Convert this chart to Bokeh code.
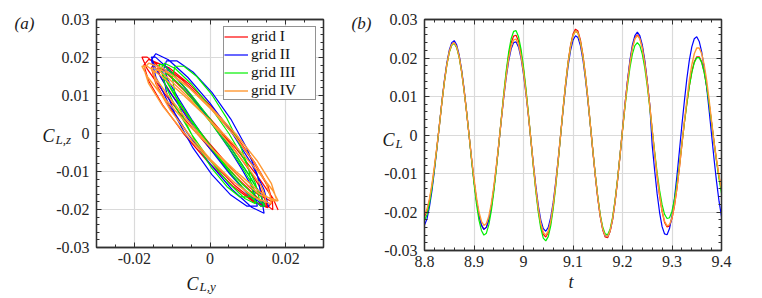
from bokeh.plotting import figure
from bokeh.models import (Range1d, FixedTicker, LinearAxis, CustomJSTickFormatter,
                          Label, Legend, LegendItem)
from bokeh.layouts import row
from bokeh.embed import file_html
from bokeh.resources import INLINE

# ---------------- data: panel (a)  C_L,y  vs  C_L,z ----------------
cly_red = [0.0180, 0.0166, 0.0127, 0.0069, 0.0, -0.0069, -0.0127, -0.0166, -0.0180, -0.0166, -0.0127, -0.0069, 0.0, 0.0069, 0.0127, 0.0166,
           0.0165, 0.0153, 0.0118, 0.0066, 0.0005, -0.0056, -0.0108, -0.0143, -0.0155, -0.0143, -0.0108, -0.0056, 0.0005, 0.0066, 0.0118, 0.0153,
           0.0140, 0.0129, 0.0099, 0.0054, 0.0, -0.0054, -0.0099, -0.0129, -0.0140, -0.0129, -0.0099, -0.0054, 0.0, 0.0054, 0.0099, 0.0129,
           0.0165, 0.0152, 0.0115, 0.0060, -0.0005, -0.0070, -0.0125, -0.0162, -0.0175, -0.0162, -0.0125, -0.0070, -0.0005, 0.0060, 0.0115, 0.0152,
           0.0165]
clz_red = [-0.0201, -0.0170, -0.0114, -0.0040, 0.0040, 0.0114, 0.0170, 0.0201, 0.0201, 0.0170, 0.0114, 0.0040, -0.0040, -0.0114, -0.0170, -0.0201,
           -0.0179, -0.0137, -0.0076, -0.0003, 0.0070, 0.0131, 0.0173, 0.0187, 0.0173, 0.0131, 0.0070, -0.0003, -0.0076, -0.0137, -0.0179, -0.0193,
           -0.0162, -0.0136, -0.0090, -0.0028, 0.0038, 0.0100, 0.0146, 0.0172, 0.0172, 0.0146, 0.0100, 0.0038, -0.0028, -0.0090, -0.0136, -0.0162,
           -0.0180, -0.0138, -0.0075, 0.0, 0.0075, 0.0138, 0.0180, 0.0195, 0.0180, 0.0138, 0.0075, 0.0, -0.0075, -0.0138, -0.0180, -0.0195,
           -0.0180]

cly_blue = [0.0155, 0.0143, 0.0110, 0.0059, 0.0, -0.0059, -0.0110, -0.0143, -0.0155, -0.0143, -0.0110, -0.0059, 0.0, 0.0059, 0.0110, 0.0143,
            0.0135, 0.0125, 0.0097, 0.0055, 0.0005, -0.0045, -0.0087, -0.0115, -0.0125, -0.0115, -0.0087, -0.0045, 0.0005, 0.0055, 0.0097, 0.0125,
            0.0120, 0.0111, 0.0085, 0.0046, 0.0, -0.0046, -0.0085, -0.0111, -0.0120, -0.0111, -0.0085, -0.0046, 0.0, 0.0046, 0.0085, 0.0111,
            0.0145, 0.0134, 0.0101, 0.0052, -0.0005, -0.0062, -0.0111, -0.0144, -0.0155, -0.0144, -0.0111, -0.0062, -0.0005, 0.0052, 0.0101, 0.0134,
            0.0145]
clz_blue = [-0.0194, -0.0148, -0.0080, 0.0, 0.0080, 0.0148, 0.0194, 0.0210, 0.0194, 0.0148, 0.0080, 0.0, -0.0080, -0.0148, -0.0194, -0.0210,
            -0.0162, -0.0108, -0.0038, 0.0038, 0.0108, 0.0162, 0.0191, 0.0191, 0.0162, 0.0108, 0.0038, -0.0038, -0.0108, -0.0162, -0.0191, -0.0191,
            -0.0167, -0.0141, -0.0095, -0.0033, 0.0033, 0.0095, 0.0141, 0.0167, 0.0167, 0.0141, 0.0095, 0.0033, -0.0033, -0.0095, -0.0141, -0.0167,
            -0.0191, -0.0161, -0.0106, -0.0034, 0.0044, 0.0116, 0.0171, 0.0201, 0.0201, 0.0171, 0.0116, 0.0044, -0.0034, -0.0106, -0.0161, -0.0191,
            -0.0191]

cly_green = [0.0130, 0.0120, 0.0092, 0.0050, 0.0, -0.0050, -0.0092, -0.0120, -0.0130, -0.0120, -0.0092, -0.0050, 0.0, 0.0050, 0.0092, 0.0120,
             0.0110, 0.0102, 0.0079, 0.0045, 0.0005, -0.0035, -0.0069, -0.0092, -0.0100, -0.0092, -0.0069, -0.0035, 0.0005, 0.0045, 0.0079, 0.0102,
             0.0120, 0.0111, 0.0085, 0.0046, 0.0, -0.0046, -0.0085, -0.0111, -0.0120, -0.0111, -0.0085, -0.0046, 0.0, 0.0046, 0.0085, 0.0111,
             0.0145, 0.0134, 0.0104, 0.0059, 0.0005, -0.0049, -0.0094, -0.0124, -0.0135, -0.0124, -0.0094, -0.0049, 0.0005, 0.0059, 0.0104, 0.0134,
             0.0145]
clz_green = [-0.0171, -0.0131, -0.0071, 0.0, 0.0071, 0.0131, 0.0171, 0.0185, 0.0171, 0.0131, 0.0071, 0.0, -0.0071, -0.0131, -0.0171, -0.0185,
             -0.0140, -0.0092, -0.0029, 0.0039, 0.0102, 0.0150, 0.0177, 0.0177, 0.0150, 0.0102, 0.0039, -0.0029, -0.0092, -0.0140, -0.0167, -0.0167,
             -0.0157, -0.0133, -0.0089, -0.0031, 0.0031, 0.0089, 0.0133, 0.0157, 0.0157, 0.0133, 0.0089, 0.0031, -0.0031, -0.0089, -0.0133, -0.0157,
             -0.0191, -0.0163, -0.0111, -0.0042, 0.0032, 0.0101, 0.0153, 0.0181, 0.0181, 0.0153, 0.0101, 0.0032, -0.0042, -0.0111, -0.0163, -0.0191,
             -0.0191]

cly_orange = [0.0175, 0.0162, 0.0124, 0.0067, 0.0, -0.0067, -0.0124, -0.0162, -0.0175, -0.0162, -0.0124, -0.0067, 0.0, 0.0067, 0.0124, 0.0162,
              0.0160, 0.0148, 0.0115, 0.0064, 0.0005, -0.0054, -0.0105, -0.0138, -0.0150, -0.0138, -0.0105, -0.0054, 0.0005, 0.0064, 0.0115, 0.0148,
              0.0145, 0.0134, 0.0101, 0.0052, -0.0005, -0.0062, -0.0111, -0.0144, -0.0155, -0.0144, -0.0111, -0.0062, -0.0005, 0.0052, 0.0101, 0.0134,
              0.0180, 0.0166, 0.0127, 0.0069, 0.0, -0.0069, -0.0127, -0.0166, -0.0180, -0.0166, -0.0127, -0.0069, 0.0, 0.0069, 0.0127, 0.0166,
              0.0180]
clz_orange = [-0.0171, -0.0131, -0.0071, 0.0, 0.0071, 0.0131, 0.0171, 0.0185, 0.0171, 0.0131, 0.0071, 0.0, -0.0071, -0.0131, -0.0171, -0.0185,
              -0.0167, -0.0129, -0.0072, -0.0005, 0.0062, 0.0119, 0.0157, 0.0170, 0.0157, 0.0119, 0.0062, -0.0005, -0.0072, -0.0129, -0.0167, -0.0180,
              -0.0162, -0.0136, -0.0090, -0.0028, 0.0038, 0.0100, 0.0146, 0.0172, 0.0172, 0.0146, 0.0100, 0.0038, -0.0028, -0.0090, -0.0136, -0.0162,
              -0.0177, -0.0150, -0.0100, -0.0035, 0.0035, 0.0100, 0.0150, 0.0177, 0.0177, 0.0150, 0.0100, 0.0035, -0.0035, -0.0100, -0.0150, -0.0177,
              -0.0177]

# ---------------- data: panel (b)  C_L(t) ----------------
t = [8.800, 8.805, 8.810, 8.815, 8.820, 8.825, 8.830, 8.835, 8.840, 8.845, 8.850, 8.855, 8.860, 8.865, 8.870, 8.875,
     8.880, 8.885, 8.890, 8.895, 8.900, 8.905, 8.910, 8.915, 8.920, 8.925, 8.930, 8.935, 8.940, 8.945, 8.950, 8.955,
     8.960, 8.965, 8.970, 8.975, 8.980, 8.985, 8.990, 8.995, 9.000, 9.005, 9.010, 9.015, 9.020, 9.025, 9.030, 9.035,
     9.040, 9.045, 9.050, 9.055, 9.060, 9.065, 9.070, 9.075, 9.080, 9.085, 9.090, 9.095, 9.100, 9.105, 9.110, 9.115,
     9.120, 9.125, 9.130, 9.135, 9.140, 9.145, 9.150, 9.155, 9.160, 9.165, 9.170, 9.175, 9.180, 9.185, 9.190, 9.195,
     9.200, 9.205, 9.210, 9.215, 9.220, 9.225, 9.230, 9.235, 9.240, 9.245, 9.250, 9.255, 9.260, 9.265, 9.270, 9.275,
     9.280, 9.285, 9.290, 9.295, 9.300, 9.305, 9.310, 9.315, 9.320, 9.325, 9.330, 9.335, 9.340, 9.345, 9.350, 9.355,
     9.360, 9.365, 9.370, 9.375, 9.380, 9.385, 9.390, 9.395, 9.400]

cl_red = [-0.0212, -0.0198, -0.0170, -0.0132, -0.0085, -0.0032,
          0.0024, 0.0083, 0.0137, 0.0182, 0.0216, 0.0235, 0.0240, 0.0229, 0.0204, 0.0165, 0.0116, 0.0060, 0.0,
          -0.0061, -0.0119, -0.0169, -0.0208, -0.0234, -0.0245, -0.0240, -0.0220, -0.0186, -0.0140, -0.0085, -0.0025,
          0.0039, 0.0102, 0.0159, 0.0206, 0.0239, 0.0257, 0.0259, 0.0244, 0.0213, 0.0169, 0.0114, 0.0052,
          -0.0014, -0.0081, -0.0142, -0.0195, -0.0234, -0.0258, -0.0265, -0.0254, -0.0227, -0.0185, -0.0130, -0.0068, 0.0,
          0.0069, 0.0133, 0.0189, 0.0233, 0.0262, 0.0275, 0.0270, 0.0247, 0.0209, 0.0157, 0.0095, 0.0028,
          -0.0040, -0.0106, -0.0164, -0.0212, -0.0246, -0.0265, -0.0267, -0.0251, -0.0220, -0.0174, -0.0118, -0.0054,
          0.0013, 0.0078, 0.0138, 0.0189, 0.0228, 0.0252, 0.0260, 0.0252, 0.0228, 0.0189, 0.0138, 0.0078, 0.0013,
          -0.0049, -0.0108, -0.0158, -0.0199, -0.0227, -0.0239, -0.0236, -0.0217, -0.0184, -0.0139, -0.0085, -0.0025,
          0.0032, 0.0082, 0.0127, 0.0164, 0.0190, 0.0203, 0.0203, 0.0190, 0.0164, 0.0127, 0.0082, 0.0032,
          -0.0019, -0.0066, -0.0108, -0.0144]

cl_blue = [-0.0234, -0.0218, -0.0187, -0.0145, -0.0093, -0.0036,
           0.0025, 0.0085, 0.0140, 0.0186, 0.0220, 0.0240, 0.0245, 0.0234, 0.0208, 0.0169, 0.0119, 0.0061, 0.0,
           -0.0061, -0.0119, -0.0169, -0.0208, -0.0234, -0.0245, -0.0240, -0.0220, -0.0186, -0.0140, -0.0085, -0.0025,
           0.0037, 0.0096, 0.0149, 0.0192, 0.0223, 0.0240, 0.0242, 0.0228, 0.0200, 0.0158, 0.0107, 0.0049,
           -0.0013, -0.0076, -0.0134, -0.0184, -0.0221, -0.0243, -0.0250, -0.0240, -0.0214, -0.0175, -0.0123, -0.0064, 0.0,
           0.0065, 0.0125, 0.0178, 0.0219, 0.0246, 0.0258, 0.0253, 0.0232, 0.0196, 0.0147, 0.0090, 0.0026,
           -0.0040, -0.0104, -0.0162, -0.0210, -0.0244, -0.0262, -0.0264, -0.0249, -0.0218, -0.0173, -0.0117, -0.0053,
           0.0014, 0.0080, 0.0141, 0.0194, 0.0234, 0.0258, 0.0267, 0.0258, 0.0234, 0.0194, 0.0141, 0.0080,
           -0.0027,
           -0.0093, -0.0153, -0.0202, -0.0238, -0.0257, -0.0259, -0.0243, -0.0210, -0.0164, -0.0106, -0.0041,
           0.0026, 0.0088, 0.0146, 0.0194, 0.0229, 0.0250, 0.0255, 0.0243, 0.0216, 0.0175, 0.0124, 0.0064, 0.0,
           -0.0063, -0.0121, -0.0172, -0.0212]

cl_green = [-0.0222, -0.0207, -0.0178, -0.0138, -0.0089, -0.0034,
            0.0024, 0.0083, 0.0136, 0.0181, 0.0214, 0.0233, 0.0238, 0.0227, 0.0202, 0.0164, 0.0115, 0.0060, 0.0,
            -0.0065, -0.0126, -0.0179, -0.0221, -0.0248, -0.0260, -0.0255, -0.0233, -0.0197, -0.0148, -0.0090, -0.0026,
            0.0041, 0.0107, 0.0166, 0.0215, 0.0250, 0.0269, 0.0271, 0.0255, 0.0223, 0.0177, 0.0120, 0.0055,
            -0.0014, -0.0084, -0.0148, -0.0202, -0.0243, -0.0268, -0.0275, -0.0264, -0.0236, -0.0192, -0.0135, -0.0070, 0.0,
            0.0068, 0.0131, 0.0186, 0.0229, 0.0258, 0.0270, 0.0265, 0.0242, 0.0205, 0.0154, 0.0094, 0.0027,
            -0.0039, -0.0102, -0.0159, -0.0206, -0.0239, -0.0257, -0.0259, -0.0244, -0.0213, -0.0169, -0.0114, -0.0052,
            0.0012, 0.0072, 0.0127, 0.0174, 0.0210, 0.0232, 0.0240, 0.0232, 0.0210, 0.0174, 0.0127, 0.0072, 0.0012,
            -0.0044, -0.0098, -0.0144, -0.0181, -0.0206, -0.0217, -0.0215, -0.0198, -0.0167, -0.0126, -0.0077, -0.0022,
            0.0031, 0.0081, 0.0126, 0.0162, 0.0188, 0.0201, 0.0201, 0.0188, 0.0162, 0.0126, 0.0081, 0.0031,
            -0.0020, -0.0069, -0.0114, -0.0152]

cl_orange = [-0.0207, -0.0193, -0.0166, -0.0129, -0.0083, -0.0032,
             0.0024, 0.0083, 0.0137, 0.0182, 0.0216, 0.0235, 0.0240, 0.0229, 0.0204, 0.0165, 0.0116, 0.0060, 0.0,
             -0.0059, -0.0114, -0.0162, -0.0200, -0.0224, -0.0235, -0.0230, -0.0211, -0.0178, -0.0134, -0.0082, -0.0024,
             0.0038, 0.0099, 0.0153, 0.0198, 0.0230, 0.0247, 0.0249, 0.0235, 0.0205, 0.0163, 0.0110, 0.0050,
             -0.0013, -0.0079, -0.0140, -0.0191, -0.0230, -0.0253, -0.0260, -0.0250, -0.0223, -0.0181, -0.0128, -0.0066, 0.0,
             0.0068, 0.0131, 0.0186, 0.0229, 0.0258, 0.0270, 0.0265, 0.0242, 0.0205, 0.0154, 0.0094, 0.0027,
             -0.0040, -0.0104, -0.0162, -0.0210, -0.0244, -0.0262, -0.0264, -0.0249, -0.0218, -0.0173, -0.0117, -0.0053,
             0.0013, 0.0077, 0.0136, 0.0187, 0.0226, 0.0250, 0.0258, 0.0250, 0.0226, 0.0187, 0.0136, 0.0077, 0.0013,
             -0.0048, -0.0106, -0.0156, -0.0197, -0.0224, -0.0236, -0.0233, -0.0215, -0.0182, -0.0137, -0.0084, -0.0024,
             0.0035, 0.0091, 0.0142, 0.0182, 0.0211, 0.0226, 0.0226, 0.0211, 0.0182, 0.0142, 0.0091, 0.0035,
             -0.0019, -0.0064, -0.0106, -0.0140]

series_labels = ["grid I", "grid II", "grid III", "grid IV"]
colors = ["#ff0000", "#0000ff", "#00f000", "#ff9933"]

# tick positions
a_xticks = [-0.02, 0.0, 0.02]
a_yticks = [-0.03, -0.02, -0.01, 0.0, 0.01, 0.02, 0.03]
b_xticks = [8.8, 8.9, 9.0, 9.1, 9.2, 9.3, 9.4]
b_yticks = [-0.03, -0.02, -0.01, 0.0, 0.01, 0.02, 0.03]
a_xminor = [round(-0.03 + 0.005 * i, 4) for i in range(13)]
y_minor = [round(-0.03 + 0.002 * i, 4) for i in range(31)]
b_xminor = [round(8.8 + 0.02 * i, 3) for i in range(31)]

FONT = "Liberation Serif"
DARK = "#303030"
FMT = "return (Math.round(tick*10000)/10000).toString();"


def style(p, xt, xm, yt, ym):
    fmt = CustomJSTickFormatter(code=FMT)
    blank = CustomJSTickFormatter(code="return '';")
    p.xaxis.ticker = FixedTicker(ticks=xt, minor_ticks=xm)
    p.yaxis.ticker = FixedTicker(ticks=yt, minor_ticks=ym)
    p.xaxis.formatter = fmt
    p.yaxis.formatter = fmt
    top = LinearAxis(ticker=FixedTicker(ticks=xt, minor_ticks=xm), formatter=blank)
    right = LinearAxis(ticker=FixedTicker(ticks=yt, minor_ticks=ym), formatter=blank)
    p.add_layout(top, "above")
    p.add_layout(right, "right")
    for ax in p.axis:
        ax.major_tick_in = 5
        ax.major_tick_out = 0
        ax.minor_tick_in = 3
        ax.minor_tick_out = 0
        ax.axis_line_color = DARK
        ax.axis_line_width = 1.3
        ax.major_tick_line_color = DARK
        ax.minor_tick_line_color = DARK
        ax.major_label_text_font = FONT
        ax.major_label_text_font_size = "16px"
        ax.major_label_text_color = "#262626"
    top.major_label_text_font_size = "1px"
    right.major_label_text_font_size = "1px"
    top.major_label_standoff = 0
    right.major_label_standoff = 0
    p.xaxis[0].major_label_standoff = 7
    p.yaxis[0].major_label_standoff = 7
    p.xgrid.ticker = FixedTicker(ticks=xt)
    p.ygrid.ticker = FixedTicker(ticks=yt)
    p.grid.grid_line_color = "#dadada"
    p.grid.grid_line_width = 1.2
    p.outline_line_color = DARK
    p.outline_line_width = 1.3
    p.background_fill_color = "white"
    p.border_fill_color = "white"


def label(p, side, x, y, text, size):
    # placed in a side panel (so it is not clipped to the frame), positioned in data units
    p.add_layout(Label(x=x, y=y, text=text, text_font=FONT, text_font_style="italic",
                       text_font_size=size, text_color="#1a1a1a",
                       text_align="left", text_baseline="alphabetic"), side)


# ---------------- panel (a) ----------------
pa = figure(frame_width=227, frame_height=228, min_border_left=96, min_border_right=57,
            min_border_top=19, min_border_bottom=50,
            x_range=Range1d(-0.03, 0.03), y_range=Range1d(-0.03, 0.03),
            output_backend="svg", toolbar_location=None)
style(pa, a_xticks, a_xminor, a_yticks, y_minor)

xs_a = [cly_red, cly_blue, cly_green, cly_orange]
ys_a = [clz_red, clz_blue, clz_green, clz_orange]
renderers = []
for xv, yv, c in zip(xs_a, ys_a, colors):
    renderers.append(pa.line(xv, yv, line_color=c, line_width=1.4 if c == "#ff9933" else 1.2))

legend = Legend(items=[LegendItem(label=lab, renderers=[r]) for lab, r in zip(series_labels, renderers)],
                location="top_right", margin=7, padding=0, spacing=0,
                glyph_width=24, glyph_height=17, label_height=17, label_standoff=3, label_width=64,
                label_text_font=FONT, label_text_font_size="15.5px", label_text_color="#111111",
                border_line_color="#262626", border_line_width=1.3,
                background_fill_color="white", background_fill_alpha=1.0)
pa.add_layout(legend)


def a_pos(px, py):
    # page pixel -> data of panel (a)  (frame: x 96..323, y 19..247)
    return (-0.03 + (px - 96) / 227 * 0.06, 0.03 - (py - 19) / 228 * 0.06)


def b_pos(px, py):
    # page pixel -> data of panel (b)  (frame: x 424..721, y 16..247)
    return (8.8 + (px - 424) / 297 * 0.6, 0.03 - (py - 16) / 231 * 0.06)


label(pa, "left", *a_pos(14, 23), "(a)", "17px")
label(pa, "left", *a_pos(42, 135), "C", "18px")
label(pa, "left", *a_pos(55, 139), "L,z", "13px")
label(pa, "right", *a_pos(186, 283), "C", "18px")
label(pa, "right", *a_pos(199, 286), "L,y", "13px")
label(pa, "right", *a_pos(351, 23), "(b)", "17px")

# ---------------- panel (b) ----------------
pb = figure(frame_width=297, frame_height=231, min_border_left=44, min_border_right=33,
            min_border_top=16, min_border_bottom=50,
            x_range=Range1d(8.8, 9.4), y_range=Range1d(-0.03, 0.03),
            output_backend="svg", toolbar_location=None)
style(pb, b_xticks, b_xminor, b_yticks, y_minor)

for yv, c in zip([cl_red, cl_blue, cl_green, cl_orange], colors):
    pb.line(t, yv, line_color=c, line_width=1.4 if c == "#ff9933" else 1.2)

label(pb, "right", *b_pos(382, 136), "C", "18px")
label(pb, "right", *b_pos(395, 140), "L", "13px")
label(pb, "right", *b_pos(568, 278), "t", "18px")

layout = row(pa, pb)
open("out.html", "w").write(file_html(layout, INLINE))
